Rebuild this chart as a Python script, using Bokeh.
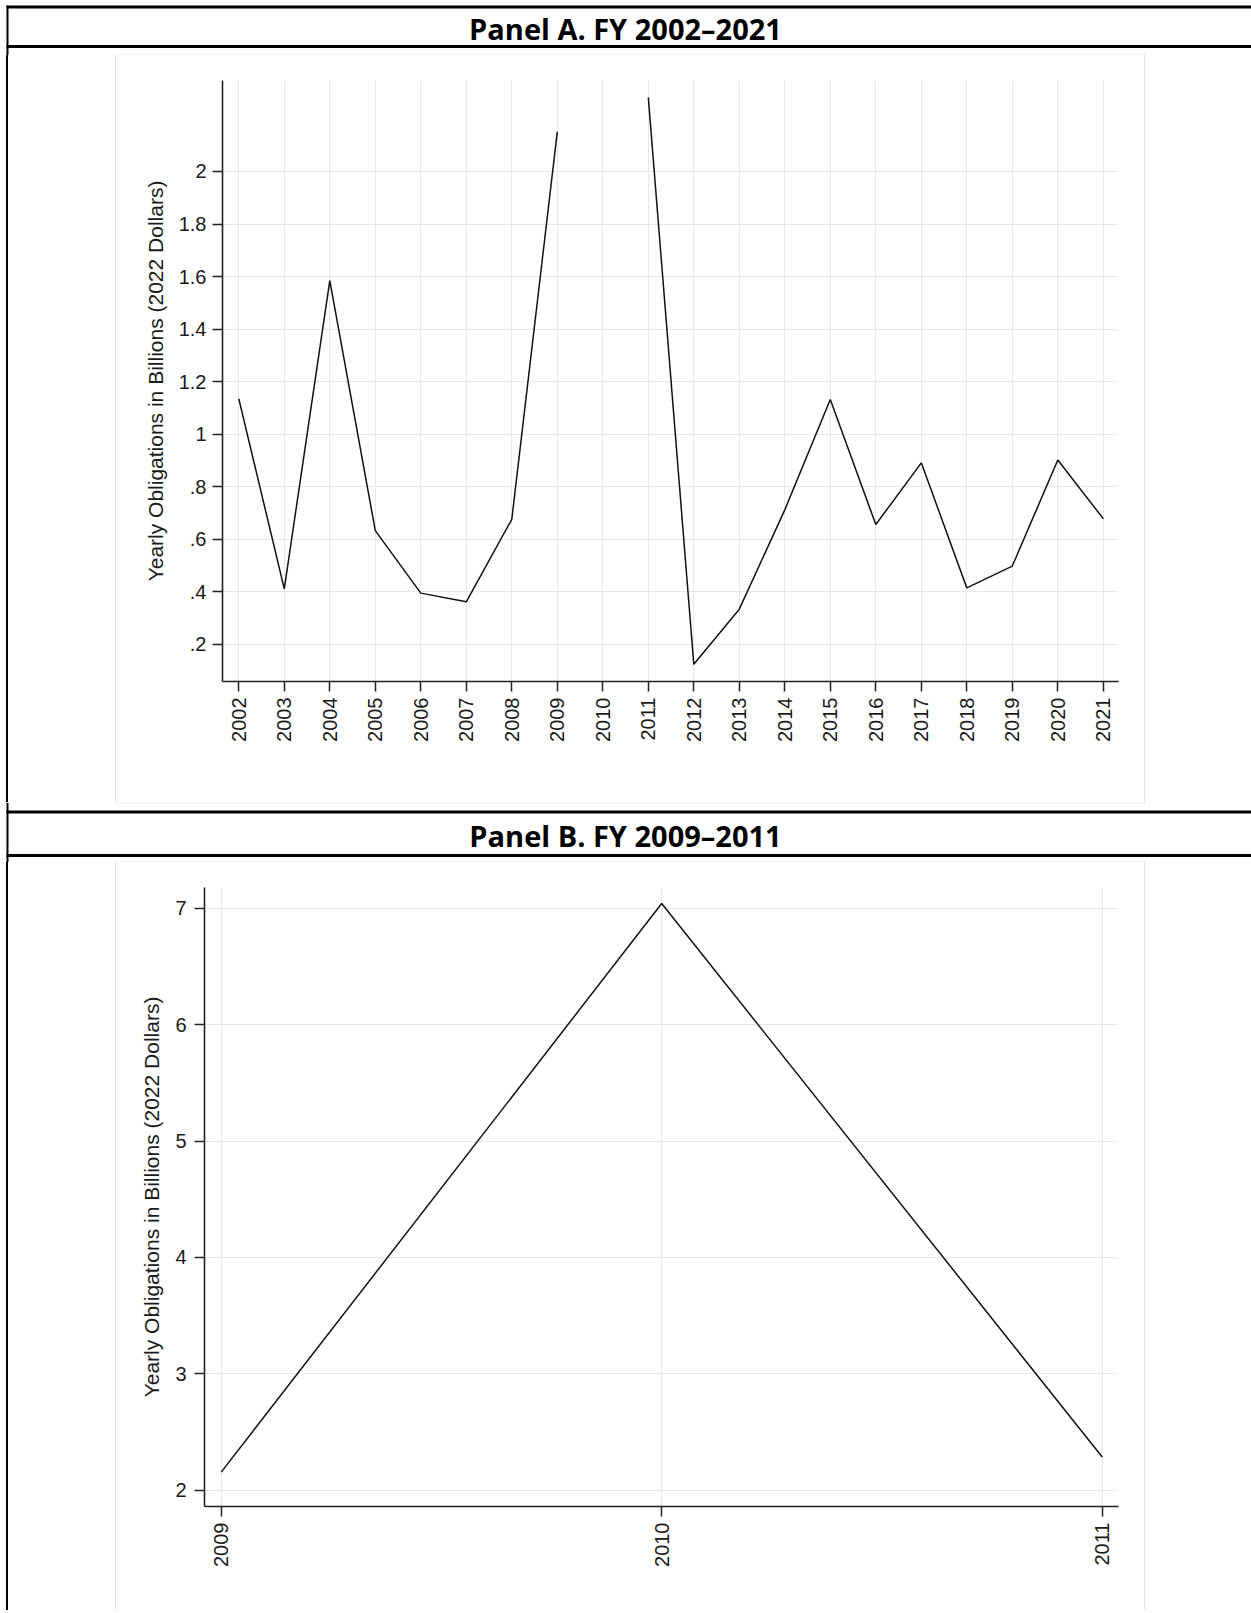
import math
from bokeh.plotting import figure
from bokeh.models import Range1d, FixedTicker, Spacer
from bokeh.layouts import column, row
from bokeh.embed import file_html
from bokeh.resources import INLINE
from bokeh.core.properties import value

# ---------------- data ----------------
years_a = [2002, 2003, 2004, 2005, 2006, 2007, 2008, 2009, 2010, 2011,
           2012, 2013, 2014, 2015, 2016, 2017, 2018, 2019, 2020, 2021]
# FY2010 is not drawn in Panel A (gap in the line)
oblig_a = [1.135, 0.411, 1.585, 0.633, 0.395, 0.362, 0.676, 2.151, float("nan"), 2.282,
           0.124, 0.334, 0.712, 1.132, 0.656, 0.891, 0.415, 0.498, 0.902, 0.678]
years_b = [2009, 2010, 2011]
oblig_b = [2.155, 7.04, 2.285]

yticks_a = [0.2, 0.4, 0.6, 0.8, 1.0, 1.2, 1.4, 1.6, 1.8, 2.0]
ytick_labels_a = [".2", ".4", ".6", ".8", "1", "1.2", "1.4", "1.6", "1.8", "2"]
yticks_b = [2, 3, 4, 5, 6, 7]
ytick_labels_b = ["2", "3", "4", "5", "6", "7"]

title_a = "Panel A. FY 2002\u20132021"
title_b = "Panel B. FY 2009\u20132011"
y_title = "Yearly Obligations in Billions (2022 Dollars)"

# ---------------- styles ----------------
BLACK = "#000000"
BOX = "#dde6ea"
GRID = "#e1eaed"
AXIS = "#222222"
FONT = "Liberation Sans"
W = 1251
BOX_L, BOX_R = 115, 1145


def deco(w, h):
    p = figure(width=w, height=h, x_range=Range1d(0, w), y_range=Range1d(h, 0),
               output_backend="svg", toolbar_location=None, min_border=0,
               x_axis_location=None, y_axis_location=None, title=None)
    p.grid.visible = False
    p.outline_line_color = None
    p.background_fill_color = "white"
    p.border_fill_color = "white"
    return p


def bar(p, l, r, t, b, color):
    p.quad(left=[l], right=[r], top=[t], bottom=[b], fill_color=color, line_color=None)


def header(p, txt, y):
    p.text(x=[625], y=[y], text=[txt], text_align="center", text_baseline="middle",
           text_font=value("Open Sans"), text_font_style="bold", text_font_size="29px",
           text_color="#000000")


def strip(w, h, grad):
    return Spacer(width=w, height=h, margin=0, styles={"background": grad})


def chart(w, h, xr, yr, mb, xs, ys, xticks, yticks, ylabels, ystandoff):
    p = figure(width=w, height=h, x_range=Range1d(*xr), y_range=Range1d(*yr),
               output_backend="svg", toolbar_location=None, title=None,
               min_border_left=mb[0], min_border_right=mb[1],
               min_border_top=mb[2], min_border_bottom=mb[3])
    p.outline_line_color = None
    p.background_fill_color = "white"
    p.border_fill_color = "white"
    p.line(xs, ys, line_color="#111111", line_width=1.5)

    for ax in (p.xaxis[0], p.yaxis[0]):
        ax.axis_line_color = AXIS
        ax.axis_line_width = 1.6
        ax.major_tick_line_color = AXIS
        ax.major_tick_line_width = 1.5
        ax.major_tick_out = 10
        ax.major_tick_in = 0
        ax.minor_tick_line_color = None
        ax.major_label_text_font = FONT
        ax.major_label_text_font_size = "20px"
        ax.major_label_text_color = "#1a1a1a"

    xa = p.xaxis[0]
    xa.ticker = FixedTicker(ticks=xticks, minor_ticks=[])
    xa.major_label_orientation = math.pi / 2
    xa.major_label_standoff = 6

    ya = p.yaxis[0]
    ya.ticker = FixedTicker(ticks=yticks, minor_ticks=[])
    ya.major_label_overrides = {t: s for t, s in zip(yticks, ylabels)}
    ya.major_label_standoff = ystandoff
    ya.axis_label = y_title
    ya.axis_label_text_font = FONT
    ya.axis_label_text_font_size = "21px"
    ya.axis_label_text_font_style = "normal"
    ya.axis_label_text_color = "#1a1a1a"
    ya.axis_label_standoff = 9

    p.xgrid.ticker = FixedTicker(ticks=xticks, minor_ticks=[])
    p.ygrid.ticker = FixedTicker(ticks=yticks, minor_ticks=[])
    p.grid.grid_line_color = GRID
    p.grid.grid_line_width = 1
    return p


LEFT_GRAD = ("linear-gradient(to right, #ffffff 0px, #ffffff 6px, #000000 6px, #000000 8px, "
             "#ffffff 8px, #ffffff 115px, " + BOX + " 115px, " + BOX + " 116px)")
RIGHT_GRAD = ("linear-gradient(to right, " + BOX + " 0px, " + BOX + " 1px, "
              "#ffffff 1px, #ffffff 107px)")

# ---------------- Panel A header (y 0..55) ----------------
hA = deco(W, 55)
bar(hA, 6, W, 5, 8, BLACK)
bar(hA, 6, 8, 5, 55, BLACK)
header(hA, title_a, 28)
bar(hA, 6, W, 44.5, 47.5, BLACK)
bar(hA, BOX_L, BOX_R, 54, 55, BOX)

# ---------------- Panel A chart row (y 55..802) ----------------
cA = chart(1028, 747, (2001.642, 2021.334), (0.0586, 2.3464), (106, 26, 25, 121),
           years_a, oblig_a, years_a, yticks_a, ytick_labels_a, 6)
rowA = row(strip(116, 747, LEFT_GRAD), cA, strip(107, 747, RIGHT_GRAD))

# ---------------- Panel B header (y 802..862) ----------------
hB = deco(W, 60)
bar(hB, BOX_L, BOX_R, 0, 1, BOX)
bar(hB, 6, 8, 0, 60, BLACK)
bar(hB, 6, W, 8, 11, BLACK)
header(hB, title_b, 33)
bar(hB, 6, W, 51.5, 54.5, BLACK)
bar(hB, BOX_L, BOX_R, 59, 60, BOX)

# ---------------- Panel B chart row (y 862..1610) ----------------
cB = chart(1028, 748, (2008.9621, 2011.037), (1.860, 7.178), (88, 26, 25, 104),
           years_b, oblig_b, years_b, yticks_b, ytick_labels_b, 8)
rowB = row(strip(116, 748, LEFT_GRAD), cB, strip(107, 748, RIGHT_GRAD))

bB = deco(W, 3)
bar(bB, 6, 8, 0, 3, BLACK)
bar(bB, BOX_L, BOX_R, 0, 1, BOX)

layout = column(hA, rowA, hB, rowB, bB)

open("out.html", "w").write(file_html(layout, INLINE))
